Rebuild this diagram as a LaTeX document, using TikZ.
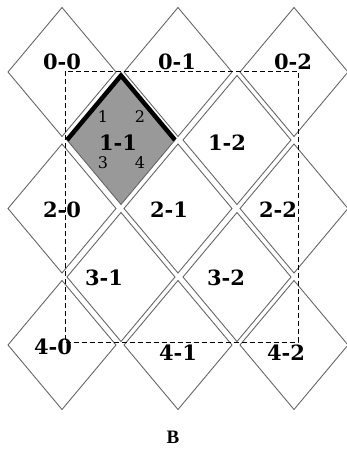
\documentclass[tikz,border=0pt]{standalone}
\usepackage{fontspec}
\usepackage{tikz}
\usetikzlibrary{shapes.geometric}
\newfontfamily\cellfont{DejaVu Serif}
\newfontfamily\capfont{Liberation Serif}
\definecolor{cellline}{HTML}{666666}
\definecolor{cellfill}{HTML}{999999}

\begin{document}
\begin{tikzpicture}[x=1pt,y=-1pt,
  cell/.style={diamond,draw=cellline,line width=0.9pt,minimum width=108pt,
               minimum height=129pt,inner sep=0pt,outer sep=0pt},
  pick/.style={cell,fill=cellfill},
  tag/.style={inner sep=0pt,font=\cellfont\bfseries\fontsize{21}{21}\selectfont},
  sub/.style={inner sep=0pt,text=black,font=\cellfont\fontsize{16}{16}\selectfont},
  edge/.style={line width=4.5pt,draw=black},
  frame/.style={draw=black,line width=0.9pt,dash pattern=on 5pt off 3pt}
]
\useasboundingbox (0,0) rectangle (347,450);
\node[cell] (d00) at (62,72) {};
\node[cell] (d01) at (178,72) {};
\node[cell] (d02) at (294,72) {};
\node[pick] (d11) at (121,140) {};
\node[cell] (d12) at (237,140) {};
\node[cell] (d20) at (62,208.5) {};
\node[cell] (d21) at (178,208.5) {};
\node[cell] (d22) at (294,208.5) {};
\node[cell] (d31) at (121,277) {};
\node[cell] (d32) at (237,277) {};
\node[cell] (d40) at (62,345) {};
\node[cell] (d41) at (178,345) {};
\node[cell] (d42) at (294,345) {};
\draw[edge] (d11.west) -- (d11.north) -- (d11.east);
\draw[frame] ([shift={(3,-1)}]d00.center) rectangle ([shift={(4,-3)}]d42.center);
\node[tag] (t00) at (62,62) {0-0};
\node[tag] (t01) at (177,62) {0-1};
\node[tag] (t02) at (293,62) {0-2};
\node[tag] (t11) at (118,143) {1-1};
\node[tag] (t12) at (227,143) {1-2};
\node[tag] (t20) at (62,210) {2-0};
\node[tag] (t21) at (169,210) {2-1};
\node[tag] (t22) at (278,210) {2-2};
\node[tag] (t31) at (104,278) {3-1};
\node[tag] (t32) at (226,278) {3-2};
\node[tag] (t40) at (53,347) {4-0};
\node[tag] (t41) at (178,353) {4-1};
\node[tag] (t42) at (286,353) {4-2};
\node[sub] (n1) at (103,117) {1};
\node[sub] (n2) at (140,117) {2};
\node[sub] (n3) at (103,163) {3};
\node[sub] (n4) at (140,163) {4};
\node[font=\capfont\bfseries\fontsize{19}{19}\selectfont] (cap) at (173,437) {B};
\end{tikzpicture}
\end{document}
